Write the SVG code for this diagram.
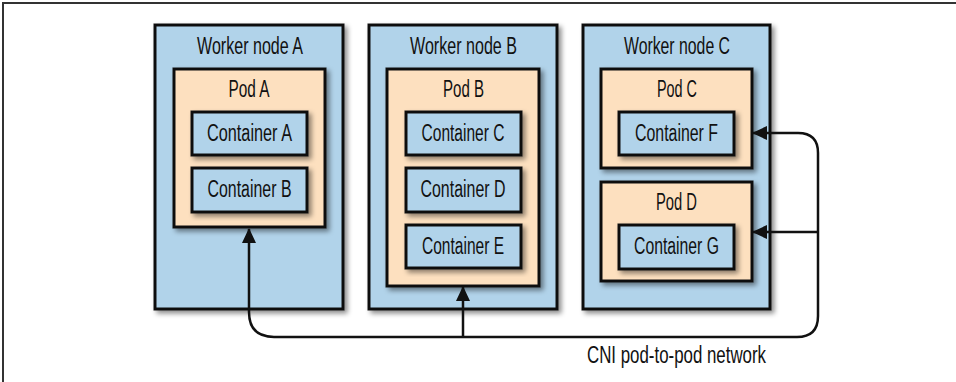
<svg xmlns="http://www.w3.org/2000/svg" width="956" height="382" viewBox="0 0 956 382">
<style>
.worker{fill:#b1d3ea;stroke:#111;stroke-width:3;filter:url(#sh)}
.pod{fill:#fde0bf;stroke:#111;stroke-width:3;filter:url(#sh)}
.ctr{fill:#b1d3ea;stroke:#111;stroke-width:3;filter:url(#sh)}
text{font-family:"Liberation Sans",Arial,sans-serif;font-size:23px;fill:#111;text-anchor:middle}
.conn{fill:none;stroke:#111;stroke-width:2.5}
</style>
<defs>
<filter id="sh" x="-10%" y="-10%" width="130%" height="130%">
<feDropShadow dx="3" dy="3" stdDeviation="2.5" flood-color="#000" flood-opacity="0.45"/>
</filter>
<marker id="ar" viewBox="0 0 15 14" refX="14" refY="7" markerWidth="15" markerHeight="14" markerUnits="userSpaceOnUse" orient="auto">
<path d="M0,0 L15,7 L0,14 Z" fill="#111"/>
</marker>
</defs>
<rect width="956" height="382" fill="#fff"/>
<path d="M3,382 V3 H956" fill="none" stroke="#333" stroke-width="2"/>

<g id="worker-a">
<rect class="worker" x="155" y="25" width="188" height="284"/>
<text x="250" y="54" textLength="106" lengthAdjust="spacingAndGlyphs">Worker node A</text>
</g>
<g id="pod-a">
<rect class="pod" x="174" y="69" width="151" height="158"/>
<text x="249" y="97" textLength="41" lengthAdjust="spacingAndGlyphs">Pod A</text>
</g>
<g id="container-a">
<rect class="ctr" x="192" y="112" width="115" height="43"/>
<text x="249.5" y="141" textLength="85" lengthAdjust="spacingAndGlyphs">Container A</text>
</g>
<g id="container-b">
<rect class="ctr" x="192" y="168" width="115" height="44"/>
<text x="249.5" y="197" textLength="84" lengthAdjust="spacingAndGlyphs">Container B</text>
</g>

<g id="worker-b">
<rect class="worker" x="369" y="25" width="188" height="284"/>
<text x="463.5" y="54" textLength="107" lengthAdjust="spacingAndGlyphs">Worker node B</text>
</g>
<g id="pod-b">
<rect class="pod" x="387" y="69" width="152" height="217"/>
<text x="463.5" y="97" textLength="41" lengthAdjust="spacingAndGlyphs">Pod B</text>
</g>
<g id="container-c">
<rect class="ctr" x="406" y="112" width="115" height="43"/>
<text x="463" y="141" textLength="83" lengthAdjust="spacingAndGlyphs">Container C</text>
</g>
<g id="container-d">
<rect class="ctr" x="406" y="168" width="115" height="44"/>
<text x="463" y="197" textLength="85" lengthAdjust="spacingAndGlyphs">Container D</text>
</g>
<g id="container-e">
<rect class="ctr" x="406" y="225" width="115" height="43"/>
<text x="463" y="254" textLength="82" lengthAdjust="spacingAndGlyphs">Container E</text>
</g>

<g id="worker-c">
<rect class="worker" x="583" y="25" width="187" height="284"/>
<text x="677" y="54" textLength="106" lengthAdjust="spacingAndGlyphs">Worker node C</text>
</g>
<g id="pod-c">
<rect class="pod" x="601" y="69" width="151" height="99"/>
<text x="677" y="97" textLength="40" lengthAdjust="spacingAndGlyphs">Pod C</text>
</g>
<g id="container-f">
<rect class="ctr" x="619" y="112" width="115" height="43"/>
<text x="676.5" y="141" textLength="83" lengthAdjust="spacingAndGlyphs">Container F</text>
</g>
<g id="pod-d">
<rect class="pod" x="601" y="182" width="151" height="99"/>
<text x="676.5" y="210" textLength="41" lengthAdjust="spacingAndGlyphs">Pod D</text>
</g>
<g id="container-g">
<rect class="ctr" x="619" y="225" width="115" height="44"/>
<text x="676.5" y="254" textLength="85" lengthAdjust="spacingAndGlyphs">Container G</text>
</g>

<g id="connectors">
<path class="conn" d="M818,232 V316 Q818,337 797,337 H274 Q249,337 249,312 V229" marker-end="url(#ar)"/>
<path class="conn" d="M463,337 V287" marker-end="url(#ar)"/>
<path class="conn" d="M818,232 V153 Q818,133 798,133 H753" marker-end="url(#ar)"/>
<path class="conn" d="M818,232 H753" marker-end="url(#ar)"/>
</g>
<g id="label">
<text x="676.5" y="363" textLength="179" lengthAdjust="spacingAndGlyphs">CNI pod-to-pod network</text>
</g>
</svg>
